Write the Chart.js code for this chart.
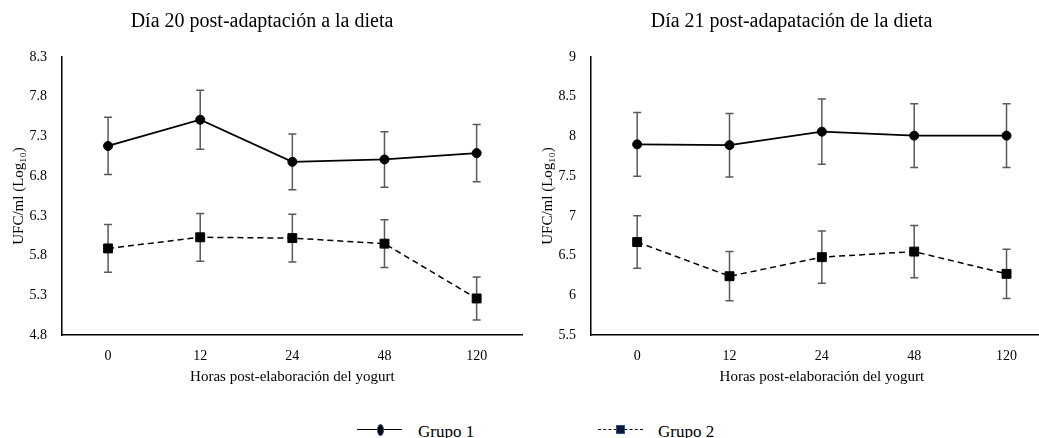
<!DOCTYPE html>
<html>
<head>
<meta charset="utf-8">
<script src="https://cdn.jsdelivr.net/npm/chart.js@4.4.0/dist/chart.umd.min.js"></script>
<style>
  body { margin: 0; background: #fff; overflow: hidden; }
  #wrap { position: relative; width: 1039px; height: 438px; overflow: hidden; background: #fff; }
  canvas { position: absolute; top: 0; }
  #c20 { left: 0; }
  #c21 { left: 529px; }
  .leg { position: absolute; font-family: "Liberation Serif", "Times New Roman", serif; font-size: 17px; color: #000; top: 422px; }
  .ln1 { position: absolute; left: 357px; top: 429px; width: 45px; height: 0; border-top: 1.5px solid #000; }
  .mk1 { position: absolute; left: 377px; top: 424px; width: 5px; height: 10px; border-radius: 50%; background: #000; border: 1px solid #2f4f8f; }
  .ln2 { position: absolute; left: 598px; top: 429px; width: 45px; height: 0; border-top: 1.5px dashed #000; }
  .mk2 { position: absolute; left: 616px; top: 425px; width: 7px; height: 7px; background: #0d1a33; border: 1px solid #2f4f8f; }
</style>
</head>
<body>
<div id="wrap">
  <canvas id="c20" width="530" height="390"></canvas>
  <canvas id="c21" width="531" height="390"></canvas>
  <div class="ln1"></div><div class="mk1"></div>
  <div class="leg" style="left:418px">Grupo 1</div>
  <div class="ln2"></div><div class="mk2"></div>
  <div class="leg" style="left:658px">Grupo 2</div>
</div>
<script>
// categorias (horas)
var horas = ["0", "12", "24", "48", "120"];

// dia 20
var grupo1Dia20 = [7.18, 7.51, 6.98, 7.01, 7.09];
var errG1Dia20 = [0.36, 0.37, 0.35, 0.35, 0.36];
var grupo2Dia20 = [5.89, 6.03, 6.02, 5.95, 5.26];
var errG2Dia20 = [0.30, 0.30, 0.30, 0.30, 0.27];
var yTicksDia20 = [4.8, 5.3, 5.8, 6.3, 6.8, 7.3, 7.8, 8.3];

// dia 21
var grupo1Dia21 = [7.90, 7.89, 8.06, 8.01, 8.01];
var errG1Dia21 = [0.40, 0.40, 0.41, 0.40, 0.40];
var grupo2Dia21 = [6.67, 6.24, 6.48, 6.55, 6.27];
var errG2Dia21 = [0.33, 0.31, 0.33, 0.33, 0.31];
var yTicksDia21 = [5.5, 6, 6.5, 7, 7.5, 8, 8.5, 9];

var serif = "'Liberation Serif', 'Times New Roman', serif";

// barras de error, dibujadas debajo de los puntos
var errorBars = {
  id: "errorBars",
  beforeDatasetsDraw: function(chart) {
    var ctx = chart.ctx;
    var y = chart.scales.y;
    ctx.save();
    ctx.strokeStyle = "#595959";
    ctx.lineWidth = 1.5;
    chart.data.datasets.forEach(function(ds, i) {
      var meta = chart.getDatasetMeta(i);
      meta.data.forEach(function(pt, j) {
        var v = ds.data[j], e = ds.errores[j];
        var top = y.getPixelForValue(v + e);
        var bot = y.getPixelForValue(v - e);
        ctx.beginPath();
        ctx.moveTo(pt.x, top); ctx.lineTo(pt.x, bot);
        ctx.moveTo(pt.x - 4, top); ctx.lineTo(pt.x + 4, top);
        ctx.moveTo(pt.x - 4, bot); ctx.lineTo(pt.x + 4, bot);
        ctx.stroke();
      });
    });
    ctx.restore();
  }
};

function makeChart(id, titulo, g1, e1, g2, e2, yTicks) {
  return new Chart(id, {
    type: "line",
    data: {
      labels: horas,
      datasets: [{
        label: "Grupo 1",
        data: g1,
        errores: e1,
        borderColor: "#000",
        borderWidth: 1.8,
        pointStyle: "circle",
        pointRadius: 4.5,
        pointBackgroundColor: "#000",
        pointBorderColor: "#000",
        pointBorderWidth: 1
      }, {
        label: "Grupo 2",
        data: g2,
        errores: e2,
        borderColor: "#000",
        borderWidth: 1.5,
        borderDash: [6, 4],
        pointStyle: "rect",
        pointRadius: 6.3,
        pointBackgroundColor: "#000",
        pointBorderColor: "#000",
        pointBorderWidth: 1
      }]
    },
    options: {
      responsive: false,
      animation: false,
      layout: {padding: {left: 0, right: 6, top: 0, bottom: 0}},
      plugins: {
        legend: {display: false},
        tooltip: {enabled: false},
        title: {
          display: true,
          text: titulo,
          color: "#000",
          font: {family: serif, size: 20, weight: "normal"},
          padding: {top: 10, bottom: 23}
        }
      },
      scales: {
        x: {
          offset: true,
          grid: {display: false, drawTicks: false},
          border: {color: "#000", width: 1.5},
          ticks: {color: "#000", font: {family: serif, size: 14}, padding: 13},
          title: {
            display: true,
            text: "Horas post-elaboración del yogurt",
            color: "#000",
            font: {family: serif, size: 15},
            padding: {top: 0, bottom: 4}
          },
          afterFit: function(s) { s.height = 55; }
        },
        y: {
          min: yTicks[0],
          max: yTicks[yTicks.length - 1],
          grid: {display: false, drawTicks: false},
          border: {color: "#000", width: 1.5},
          afterBuildTicks: function(s) {
            s.ticks = yTicks.map(function(v) { return {value: v}; });
          },
          ticks: {
            color: "#000",
            font: {family: serif, size: 14},
            padding: 15,
            callback: function(v) { return String(v); }
          },
          title: {
            display: true,
            text: "UFC/ml (Log₁₀)",
            color: "#000",
            font: {family: serif, size: 15},
            padding: {top: 10, bottom: 0}
          },
          afterFit: function(s) { s.width = 62; }
        }
      }
    },
    plugins: [errorBars]
  });
}

makeChart("c20", "Día 20 post-adaptación a la dieta",
  grupo1Dia20, errG1Dia20, grupo2Dia20, errG2Dia20, yTicksDia20);
makeChart("c21", "Día 21 post-adapatación de la dieta",
  grupo1Dia21, errG1Dia21, grupo2Dia21, errG2Dia21, yTicksDia21);
</script>
</body>
</html>
